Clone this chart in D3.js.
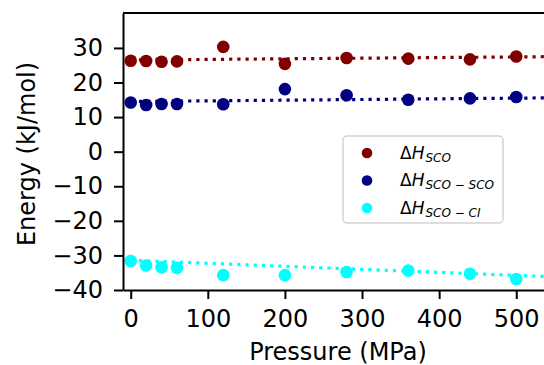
<!DOCTYPE html>
<meta charset="utf-8">
<html lang="en">
<head>
    <title>Energy vs pressure</title>
    <script src="https://d3js.org/d3.v7.min.js"></script>
    <style>
        body { margin: 0; background: #fff; }
        text { font-family: "DejaVu Sans", sans-serif; fill: #000; }
    </style>
</head>
<body>
    <svg id="chart" width="544" height="365"></svg>
    <script>
        // values
        const pressure = [0, 20, 40, 60, 120, 200, 280, 360, 440, 500];
        const hSco = [26.3, 26.2, 26.0, 26.1, 30.3, 25.4, 27.1, 26.9, 26.7, 27.5];
        const hScoSco = [14.2, 13.5, 13.8, 13.8, 13.7, 18.1, 16.3, 15.0, 15.4, 15.8];
        const hScoCi = [-31.6, -32.9, -33.4, -33.6, -35.7, -35.7, -34.8, -34.4, -35.3, -36.8];

        // dotted fit lines: value at fitX[0] and at fitX[1]
        const fitX = [0, 560];
        const fitSco = [26.5, 27.5];
        const fitScoSco = [14.5, 15.6];
        const fitScoCi = [-31.4, -36.3];

        const colors = ["#800000", "#000080", "#00ffff"];
        const subscripts = ["SCO", "SCO \u2212 SCO", "SCO \u2212 CI"];
        const xTicks = [0, 100, 200, 300, 400, 500];
        const yTicks = [-40, -30, -20, -10, 0, 10, 20, 30];

        const series = [
            { values: hSco, fit: fitSco },
            { values: hScoSco, fit: fitScoSco },
            { values: hScoCi, fit: fitScoCi }
        ];

        const plotLeft = 123, plotRight = 544, plotTop = 13, plotBottom = 290;

        const x = d3.scaleLinear().domain([-10, 536]).range([plotLeft, plotRight]);
        const y = d3.scaleLinear().domain([-40, 40.1]).range([plotBottom, plotTop]);

        const svg = d3.select("#chart");

        svg.append("clipPath").attr("id", "plot-area")
            .append("rect")
            .attr("x", plotLeft).attr("y", plotTop)
            .attr("width", plotRight - plotLeft).attr("height", plotBottom - plotTop);

        const plot = svg.append("g").attr("clip-path", "url(#plot-area)");

        series.forEach((s, i) => {
            plot.append("g")
                .selectAll("circle")
                .data(s.values)
                .enter()
                .append("circle")
                .attr("cx", (d, j) => x(pressure[j]))
                .attr("cy", (d) => y(d))
                .attr("r", 6.3)
                .attr("fill", colors[i]);
        });

        //fit lines sit above the markers like matplotlib's default zorder
        series.forEach((s, i) => {
            plot.append("path")
                .datum(fitX.map((p, j) => [p, s.fit[j]]))
                .attr("d", d3.line().x((d) => x(d[0])).y((d) => y(d[1])))
                .attr("fill", "none")
                .attr("stroke", colors[i])
                .attr("stroke-width", 3.2)
                .attr("stroke-dasharray", "3.2,5");
        });

        // axes
        const xAxis = svg.append("g")
            .attr("transform", `translate(0,${plotBottom})`)
            .call(d3.axisBottom(x).tickValues(xTicks).tickSize(9).tickPadding(11).tickSizeOuter(0));
        const yAxis = svg.append("g")
            .attr("transform", `translate(${plotLeft},0)`)
            .call(d3.axisLeft(y).tickValues(yTicks).tickSize(9).tickPadding(11).tickSizeOuter(0));

        [xAxis, yAxis].forEach((a) => {
            a.select(".domain").attr("stroke", "#000").attr("stroke-width", 2);
            a.selectAll(".tick line").attr("stroke", "#000").attr("stroke-width", 2);
            a.selectAll(".tick text")
                .attr("font-size", 24)
                .attr("font-family", "DejaVu Sans")
                .attr("fill", "#000");
        });

        // top spine (right one is cut off by the crop)
        svg.append("line")
            .attr("x1", plotLeft).attr("x2", plotRight)
            .attr("y1", plotTop).attr("y2", plotTop)
            .attr("stroke", "#000").attr("stroke-width", 2);

        svg.append("text")
            .attr("x", 338).attr("y", 360)
            .attr("text-anchor", "middle")
            .attr("font-size", 24)
            .text("Pressure (MPa)");

        svg.append("text")
            .attr("transform", "translate(35,154) rotate(-90)")
            .attr("text-anchor", "middle")
            .attr("font-size", 24)
            .text("Energy (kJ/mol)");

        // legend
        const legend = svg.append("g");
        legend.append("rect")
            .attr("x", 343).attr("y", 136)
            .attr("width", 160).attr("height", 87)
            .attr("rx", 4)
            .attr("fill", "#fff")
            .attr("fill-opacity", 0.8)
            .attr("stroke", "#d3d3d3")
            .attr("stroke-width", 1.5);

        const rows = legend.selectAll("g.row")
            .data(subscripts)
            .enter()
            .append("g")
            .attr("class", "row")
            .attr("transform", (d, i) => `translate(0,${153 + i * 27.5})`);

        rows.append("circle")
            .attr("cx", 367).attr("cy", 0).attr("r", 5.3)
            .attr("fill", (d, i) => colors[i]);

        const label = rows.append("text")
            .attr("x", 400).attr("y", 5.7)
            .attr("font-size", 17);
        label.append("tspan").text("\u0394");
        label.append("tspan").attr("font-style", "italic").text("H");
        label.append("tspan")
            .attr("font-style", "italic")
            .attr("font-size", 12)
            .attr("dx", 1)
            .attr("dy", 2.8)
            .text((d) => d);
    </script>
</body>
</html>
